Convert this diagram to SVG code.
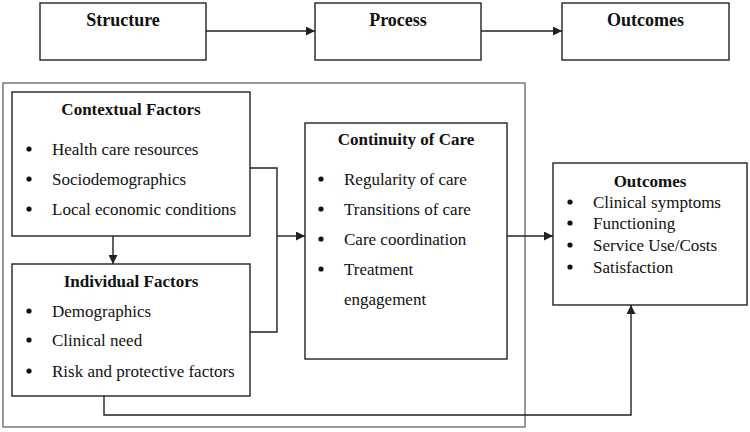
<svg xmlns="http://www.w3.org/2000/svg" width="750" height="432" viewBox="0 0 750 432">
<style>
.box{fill:#fff;stroke:#222;stroke-width:1.4}
.outer{fill:none;stroke:#555;stroke-width:1.2}
.t{font-family:"Liberation Serif","Times New Roman",serif;font-size:17px;fill:#111}
.b{font-weight:bold;text-anchor:middle}
.top{font-size:18px}
.ln{fill:none;stroke:#222;stroke-width:1.4}
.dot{fill:#111}
</style>
<defs>
<marker id="ah" viewBox="0 0 10 10" refX="10" refY="5" markerWidth="9" markerHeight="9" markerUnits="userSpaceOnUse" orient="auto">
<path d="M0,0 L10,5 L0,10 z" fill="#222"/>
</marker>
</defs>
<rect class="outer" x="3" y="83" width="522" height="344"/>
<g id="connectors">
<line class="ln" x1="206" y1="31" x2="315" y2="31" marker-end="url(#ah)"/>
<line class="ln" x1="481" y1="31" x2="562" y2="31" marker-end="url(#ah)"/>
<line class="ln" x1="113" y1="236" x2="113" y2="264" marker-end="url(#ah)"/>
<polyline class="ln" points="250,168 277,168 277,332 250,332"/>
<line class="ln" x1="277" y1="236" x2="305" y2="236" marker-end="url(#ah)"/>
<line class="ln" x1="507" y1="236" x2="553" y2="236" marker-end="url(#ah)"/>
<polyline class="ln" points="104,396 104,415 631,415 631,305" marker-end="url(#ah)"/>
</g>
<g id="structure">
<rect class="box" x="40" y="3" width="166" height="57"/>
<text class="t b top" x="123" y="26">Structure</text>
</g>
<g id="process">
<rect class="box" x="315" y="3" width="166" height="57"/>
<text class="t b top" x="398" y="26">Process</text>
</g>
<g id="outcomes-top">
<rect class="box" x="562" y="3" width="167" height="57"/>
<text class="t b top" x="645.5" y="26">Outcomes</text>
</g>
<g id="contextual">
<rect class="box" x="12" y="92" width="238" height="144"/>
<text class="t b" x="131" y="115">Contextual Factors</text>
<circle class="dot" cx="29" cy="149" r="2.6"/><text class="t" x="52" y="155">Health care resources</text>
<circle class="dot" cx="29" cy="179" r="2.6"/><text class="t" x="52" y="185">Sociodemographics</text>
<circle class="dot" cx="29" cy="209" r="2.6"/><text class="t" x="52" y="215">Local economic conditions</text>
</g>
<g id="individual">
<rect class="box" x="12" y="264" width="238" height="132"/>
<text class="t b" x="131" y="287">Individual Factors</text>
<circle class="dot" cx="29" cy="311" r="2.6"/><text class="t" x="52" y="317">Demographics</text>
<circle class="dot" cx="29" cy="340" r="2.6"/><text class="t" x="52" y="346">Clinical need</text>
<circle class="dot" cx="29" cy="371" r="2.6"/><text class="t" x="52" y="377">Risk and protective factors</text>
</g>
<g id="continuity">
<rect class="box" x="305" y="123" width="202" height="236"/>
<text class="t b" x="406" y="145">Continuity of Care</text>
<circle class="dot" cx="321" cy="179" r="2.6"/><text class="t" x="344" y="185">Regularity of care</text>
<circle class="dot" cx="321" cy="209" r="2.6"/><text class="t" x="344" y="215">Transitions of care</text>
<circle class="dot" cx="321" cy="239" r="2.6"/><text class="t" x="344" y="245">Care coordination</text>
<circle class="dot" cx="321" cy="269" r="2.6"/><text class="t" x="344" y="275">Treatment</text>
<text class="t" x="344" y="305">engagement</text>
</g>
<g id="outcomes">
<rect class="box" x="553" y="163" width="194" height="142"/>
<text class="t b" x="650" y="187">Outcomes</text>
<circle class="dot" cx="570" cy="202" r="2.6"/><text class="t" x="593" y="207.5">Clinical symptoms</text>
<circle class="dot" cx="570" cy="223" r="2.6"/><text class="t" x="593" y="228.5">Functioning</text>
<circle class="dot" cx="570" cy="245" r="2.6"/><text class="t" x="593" y="250.5">Service Use/Costs</text>
<circle class="dot" cx="570" cy="267" r="2.6"/><text class="t" x="593" y="272.5">Satisfaction</text>
</g>
</svg>
